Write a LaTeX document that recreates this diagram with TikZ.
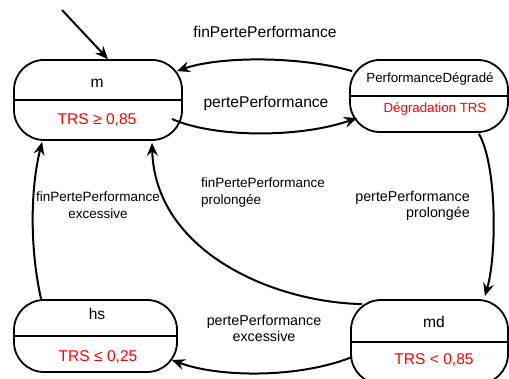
\documentclass[tikz,border=0pt]{standalone}
\usepackage{fontspec}
\setmainfont{Liberation Sans}
\usetikzlibrary{arrows.meta,calc}
\definecolor{trsred}{RGB}{255,0,0}
\tikzset{
  statebox/.style={draw, line width=1.8pt, rounded corners=30pt, minimum width=#1, inner sep=0pt},
  big/.style={font=\fontsize{15.6}{18}\selectfont, inner sep=0pt},
  small/.style={font=\fontsize{13.3}{16}\selectfont, inner sep=0pt},
  lbl/.style={font=\fontsize{13.5}{16.5}\selectfont, inner sep=0pt},
  lblb/.style={font=\fontsize{14.3}{16}\selectfont, inner sep=0pt},
  cond/.style={text=trsred},
  conn/.style={line width=2pt, -{Stealth[length=13pt,width=11pt,inset=4.5pt]}},
}
\begin{document}
\begin{tikzpicture}[x=1pt,y=-1pt]
\useasboundingbox (0,0) rectangle (509,379);
% states
\node[statebox=168pt, minimum height=80pt] (m) at (98,100) {};
\draw[line width=1.8pt] (m.west) -- (m.east);
\node[big] (mname) at (97,83) {m};
\node[big,cond] (mcond) at (97,120) {TRS ≥ 0,85};

\node[statebox=158pt, minimum height=72pt] (pd) at (429,96) {};
\draw[line width=1.8pt] (pd.west) -- (pd.east);
\node[small] (pdname) at (430,79) {PerformanceDégradé};
\node[small,cond] (pdcond) at (435,109) {Dégradation TRS};

\node[statebox=163pt, minimum height=72pt] (hs) at (95.5,336) {};
\draw[line width=1.8pt] (hs.west) -- (hs.east);
\node[big] (hsname) at (97,314) {hs};
\node[big,cond] (hscond) at (98,357) {TRS ≤ 0,25};

\node[statebox=157pt, minimum height=84pt] (md) at (429.5,342) {};
\draw[line width=1.8pt] (md.west) -- (md.east);
\node[big] (mdname) at (434,322) {md};
\node[big,cond] (mdcond) at (434,360) {TRS < 0,85};

% initial
\coordinate (init) at (62,10);
\draw[conn] (init) -- ($(m.north)+(10,0)$);

% connectors
\draw[conn] ($(pd.north west)+(3,12)$) .. controls (300,56) and (220,56) .. ($(m.north east)+(-6,12)$);
\draw[conn] ($(m.east)+(-11,19)$) .. controls (215,138) and (300,138) .. ($(pd.west)+(8,22)$);
\draw[conn] ($(pd.south east)+(-30,1)$) .. controls (497,165) and (497,255) .. ($(md.north east)+(-24,-3)$);
\draw[conn] ($(md.north west)+(12,5)$) .. controls (270,302) and (155,250) .. ($(m.south)+(54,2)$);
\draw[conn] ($(hs.north west)+(28,0)$) .. controls (30,250) and (30,190) .. ($(m.south west)+(29,1)$);
\draw[conn] ($(md.west)+(2,15)$) .. controls (300,378) and (220,378) .. ($(hs.east)+(-6,24)$);

% labels
\node[big] (l1) at (265,32) {finPertePerformance};
\node[big] (l2) at (266,103) {pertePerformance};
\node[lblb, align=right, anchor=north east] (l3) at (470,191) {pertePerformance\\prolongée};
\node[lbl, align=left, anchor=north west] (l4) at (201,178) {finPertePerformance\\prolongée};
\node[lbl, align=center] (l5) at (98,205) {finPertePerformance\\excessive};
\node[lblb, align=center] (l6) at (264,328) {pertePerformance\\excessive};
\end{tikzpicture}
\end{document}
